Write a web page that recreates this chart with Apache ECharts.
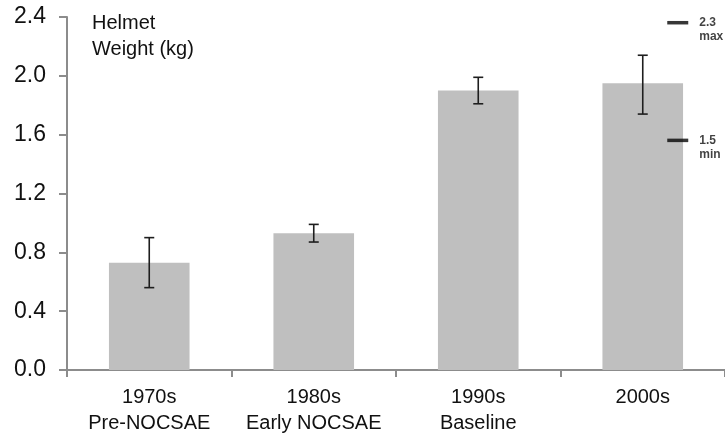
<!DOCTYPE html>
<html>
<head>
<meta charset="utf-8">
<script src="https://cdn.jsdelivr.net/npm/echarts@6/dist/echarts.min.js"></script>
<style>
  html, body { margin: 0; padding: 0; background: #fff; }
  #chart { width: 725px; height: 434px; }
</style>
</head>
<body>
<div id="chart"></div>
<script>
// Helmet weight by decade, mean with error range (kg)
const categories = ['1970s\nPre-NOCSAE', '1980s\nEarly NOCSAE', '1990s\nBaseline', '2000s'];
const meanWeight = [0.73, 0.93, 1.90, 1.95];
const errLow = [0.56, 0.87, 1.81, 1.74];
const errHigh = [0.90, 0.99, 1.99, 2.14];
const yTicks = [0.0, 0.4, 0.8, 1.2, 1.6, 2.0, 2.4];

// Reference limits shown at the right edge
const limitNames = ['max', 'min'];
const limitValues = [2.3, 1.5];

const FONT = '"Liberation Sans", Arial, Helvetica, sans-serif';
const chart = echarts.init(document.getElementById('chart'), null, { renderer: 'canvas' });

const errorData = categories.map((c, i) => [i, errLow[i], errHigh[i]]);
const limitData = limitValues.map((v, i) => ({ value: [3, v], name: limitNames[i] }));

chart.setOption({
  animation: false,
  backgroundColor: '#ffffff',
  grid: { left: 67, right: 0, top: 17, bottom: 64, containLabel: false, outerBoundsMode: 'none' },
  graphic: [{
    type: 'text',
    left: 92,
    top: 10,
    style: {
      text: 'Helmet\nWeight (kg)',
      font: '20px ' + FONT,
      lineHeight: 26,
      fill: '#111'
    }
  }],
  xAxis: {
    type: 'category',
    data: categories,
    axisLine: { lineStyle: { color: '#8c8c8c', width: 2 } },
    axisTick: { show: true, length: 7, alignWithLabel: false, lineStyle: { color: '#8c8c8c', width: 2 } },
    axisLabel: {
      interval: 0,
      margin: 14,
      fontSize: 20,
      lineHeight: 26,
      fontFamily: FONT,
      color: '#111'
    },
    splitLine: { show: false }
  },
  yAxis: {
    type: 'value',
    min: yTicks[0],
    max: yTicks[yTicks.length - 1],
    interval: 0.4,
    axisLine: { show: true, lineStyle: { color: '#8c8c8c', width: 2 } },
    axisTick: { show: true, length: 8, lineStyle: { color: '#8c8c8c', width: 2 } },
    axisLabel: {
      margin: 21,
      fontSize: 23,
      fontFamily: FONT,
      color: '#111',
      formatter: v => v.toFixed(1)
    },
    splitLine: { show: false }
  },
  series: [
    {
      type: 'bar',
      data: meanWeight,
      barWidth: '49%',
      itemStyle: { color: '#bfbfbf' },
      z: 2
    },
    {
      type: 'custom',
      data: errorData,
      z: 5,
      renderItem(params, api) {
        const x = api.value(0);
        const lo = api.coord([x, api.value(1)]);
        const hi = api.coord([x, api.value(2)]);
        const half = 5;
        const style = { stroke: '#1e1e1e', lineWidth: 1.6 };
        return {
          type: 'group',
          children: [
            { type: 'line', shape: { x1: hi[0], y1: hi[1], x2: lo[0], y2: lo[1] }, style },
            { type: 'line', shape: { x1: hi[0] - half, y1: hi[1], x2: hi[0] + half, y2: hi[1] }, style },
            { type: 'line', shape: { x1: lo[0] - half, y1: lo[1], x2: lo[0] + half, y2: lo[1] }, style }
          ]
        };
      }
    },
    {
      type: 'scatter',
      data: limitData,
      symbol: 'rect',
      symbolSize: [21, 3.5],
      symbolOffset: [35, -9],
      itemStyle: { color: '#050505' },
      z: 6,
      label: {
        show: true,
        position: 'right',
        distance: 11,
        offset: [0, 7],
        formatter: p => p.value[1].toFixed(1) + '\n' + p.name,
        fontSize: 12,
        fontWeight: 'bold',
        lineHeight: 14,
        fontFamily: FONT,
        color: '#111'
      }
    }
  ]
});
</script>
</body>
</html>
